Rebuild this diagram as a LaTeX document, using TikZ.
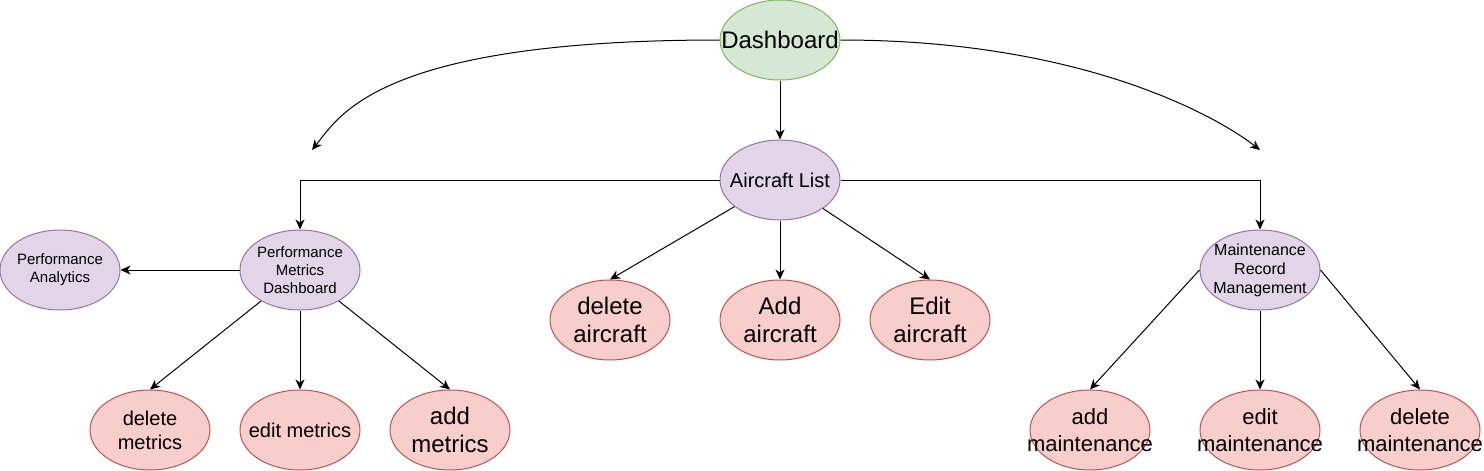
\documentclass[tikz,border=0pt]{standalone}
\usepackage{fontspec}
\setmainfont{Liberation Sans}
\usetikzlibrary{arrows.meta,positioning,shapes.geometric}
\definecolor{mint}{RGB}{213,232,212}
\definecolor{moss}{RGB}{130,179,102}
\definecolor{lilac}{RGB}{225,213,231}
\definecolor{plum}{RGB}{150,115,166}
\definecolor{blush}{RGB}{248,206,204}
\definecolor{brick}{RGB}{184,84,80}

\begin{document}
\begin{tikzpicture}[x=1pt,y=-1pt,
  bubble/.style={ellipse,draw,line width=1pt,minimum width=120pt,minimum height=80pt,
    inner xsep=-25pt,inner ysep=0pt,align=center,text=black},
  start/.style={bubble,draw=moss,fill=mint},
  page/.style={bubble,draw=plum,fill=lilac},
  task/.style={bubble,draw=brick,fill=blush},
  link/.style={line width=1pt,-{Stealth[length=10pt,width=9pt,inset=3pt]}}]
  \useasboundingbox (0,0) rectangle (1484,471);
  % top levels
  \node[start,font=\fontsize{24}{28.8}\selectfont] (dash) at (780,40) {Dashboard};
  \node[page,font=\fontsize{20}{24}\selectfont] (alist) at (780,180) {Aircraft List};
  \node[page,font=\fontsize{15}{18}\selectfont] (perf) at (300,270) {Performance\\Metrics\\Dashboard};
  \node[page,font=\fontsize{15}{18}\selectfont] (analytics) at (60,270) {Performance\\Analytics};
  \node[page,font=\fontsize{16}{19}\selectfont] (maint) at (1260,270) {Maintenance\\Record\\Management};
  \coordinate (lefttip) at (312,150);
  \coordinate (righttip) at (1260,150);
  % leaves
  \foreach \n/\x/\t in {delair/610/delete,addair/780/Add,editair/930/Edit}{
    \node[task,font=\fontsize{24}{28.8}\selectfont] (\n) at (\x,320) {\t\\aircraft};
  }
  \node[task,font=\fontsize{20}{24}\selectfont] (delmet) at (150,430) {delete\\metrics};
  \node[task,font=\fontsize{20}{24}\selectfont] (editmet) at (300,430) {edit metrics};
  \node[task,font=\fontsize{24}{28.8}\selectfont] (addmet) at (450,430) {add\\metrics};
  \foreach \n/\x/\t in {addmaint/1090/add,editmaint/1260/edit,delmaint/1420/delete}{
    \node[task,font=\fontsize{22}{26.4}\selectfont] (\n) at (\x,430) {\t\\maintenance};
  }
  % connectors
  \draw[link] (dash.west) .. controls (380,40) and (340,115) .. (lefttip);
  \draw[link] (dash.east) .. controls (1080,40) and (1215,115) .. (righttip);
  \draw[link] (dash) -- (alist);
  \draw[link] (alist.west) -| (perf.north);
  \draw[link] (alist.east) -| (maint.north);
  \draw[link] (alist) -- (delair.north);
  \draw[link] (alist) -- (addair);
  \draw[link] (alist) -- (editair.north);
  \draw[link] (perf) -- (analytics);
  \draw[link] (perf) -- (delmet.north);
  \draw[link] (perf) -- (editmet);
  \draw[link] (perf) -- (addmet.north);
  \draw[link] (maint.west) -- (addmaint.north);
  \draw[link] (maint) -- (editmaint);
  \draw[link] (maint.east) -- (delmaint.north);
\end{tikzpicture}
\end{document}
